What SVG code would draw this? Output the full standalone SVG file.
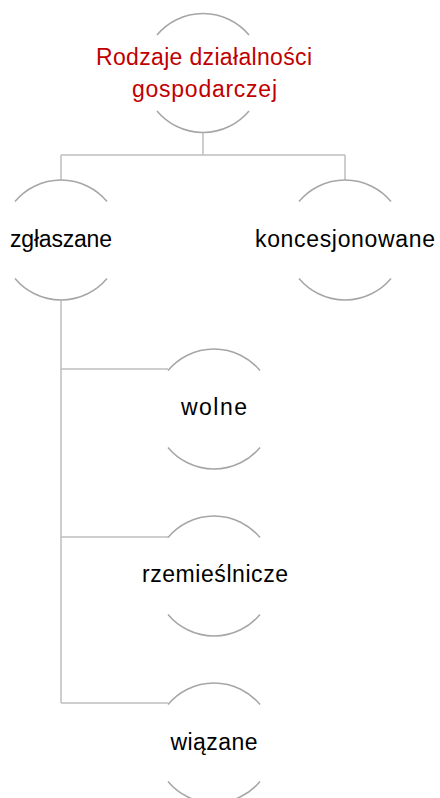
<svg xmlns="http://www.w3.org/2000/svg" width="440" height="798" viewBox="0 0 440 798">
<defs>
<style>
.arc{fill:none;stroke:#a6a6a6;stroke-width:1.5}
.con{fill:none;stroke:#bfbfbf;stroke-width:1.5}
text{font-family:"Liberation Sans",Arial,sans-serif;font-size:23px;text-anchor:middle;fill:#000}
.title{fill:#c00000}
</style>
</defs>
<rect width="440" height="798" fill="#fff"/>
<g id="connectors">
<path class="con" d="M203 133V155M61 155H345M61 155V180M345 155V180"/>
<path class="con" d="M61 300V703M61 369H168M61 537H168M61 703H168"/>
</g>
<g id="node-root">
<path class="arc" d="M157 35A60 60 0 0 1 249 35M157 111A60 60 0 0 0 249 111"/>
<text class="title" x="204" y="65" textLength="216">Rodzaje działalności</text>
<text class="title" x="204.5" y="97" textLength="145">gospodarczej</text>
</g>
<g id="node-zglaszane">
<path class="arc" d="M15 201.5A60 60 0 0 1 107 201.5M15 278.5A60 60 0 0 0 107 278.5"/>
<text x="61" y="247" textLength="102">zgłaszane</text>
</g>
<g id="node-koncesjonowane">
<path class="arc" d="M299 201.5A60 60 0 0 1 391 201.5M299 278.5A60 60 0 0 0 391 278.5"/>
<text x="345" y="247" textLength="180">koncesjonowane</text>
</g>
<g id="node-wolne">
<path class="arc" d="M168 370.5A60 60 0 0 1 260 370.5M168 447.5A60 60 0 0 0 260 447.5"/>
<text x="214" y="415" textLength="66">wolne</text>
</g>
<g id="node-rzemieslnicze">
<path class="arc" d="M168 537.5A60 60 0 0 1 260 537.5M168 614.5A60 60 0 0 0 260 614.5"/>
<text x="215" y="582" textLength="146">rzemieślnicze</text>
</g>
<g id="node-wiazane">
<path class="arc" d="M168 704.5A60 60 0 0 1 260 704.5M168 781.5A60 60 0 0 0 260 781.5"/>
<text x="214" y="750" textLength="87">wiązane</text>
</g>
</svg>
